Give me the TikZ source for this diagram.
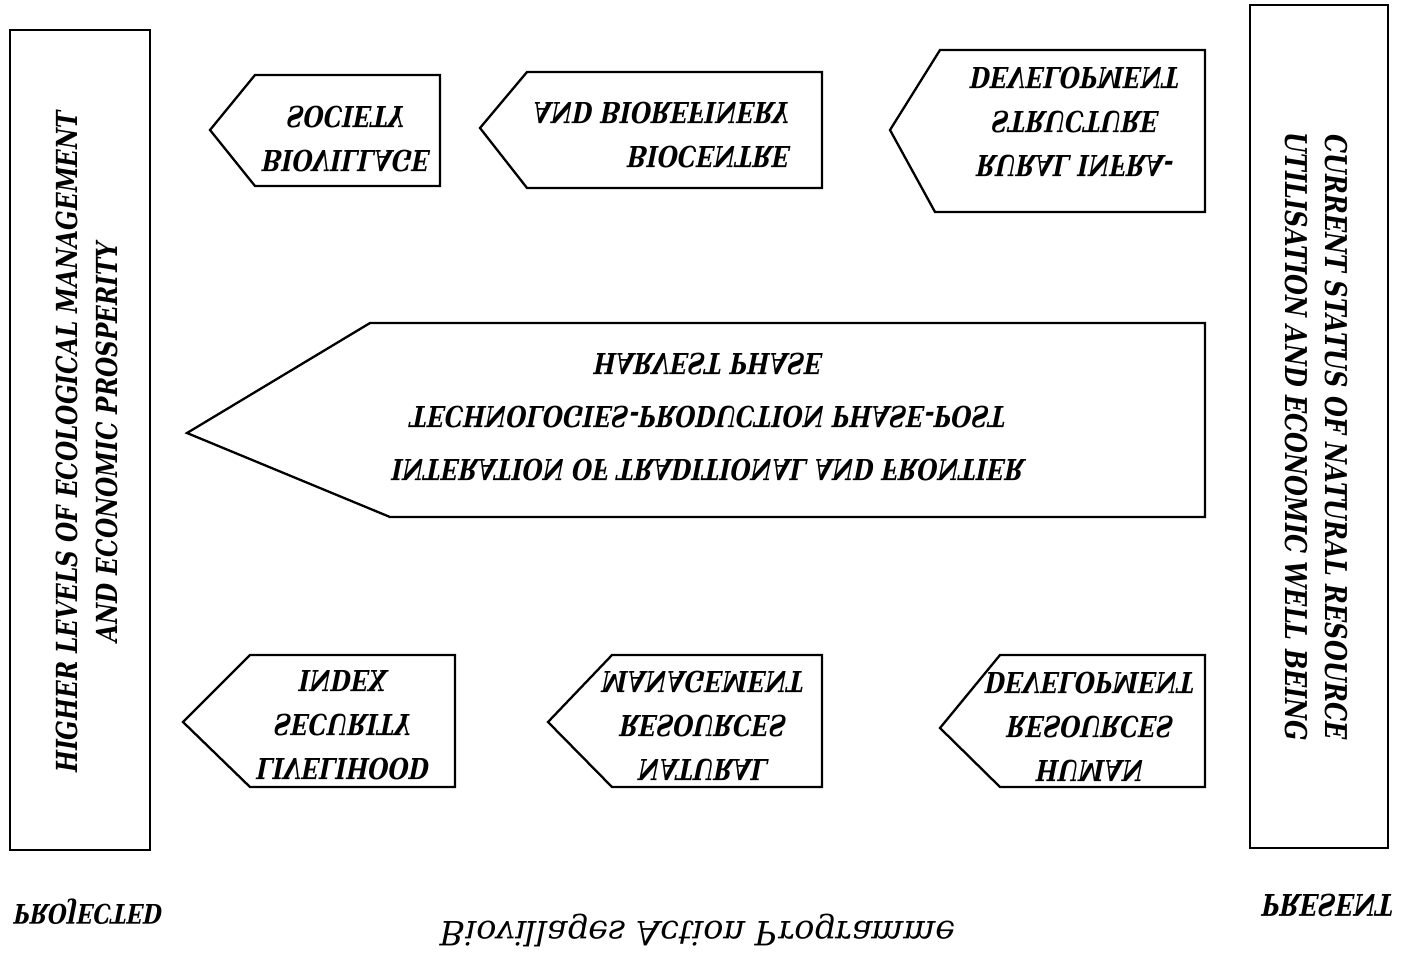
\documentclass[tikz,border=0pt]{standalone}
\usepackage{fontspec}
\usepackage{graphicx}
\newfontfamily\slab[FakeStretch=0.8]{DejaVu Serif}
\newfontfamily\backslab[FakeStretch=0.8,FakeSlant=-0.2]{DejaVu Serif}
\newfontfamily\backserif[FakeSlant=-0.2]{DejaVu Serif}
\newcommand{\flipc}[1]{\scalebox{1}[-1]{\begin{tabular}{@{}c@{}}#1\end{tabular}}}
\newcommand{\flipr}[1]{\scalebox{1}[-1]{\begin{tabular}{@{}r@{}}#1\end{tabular}}}
\tikzset{
  panel/.style={draw, line width=2.3pt},
  pent/.style={draw, line width=2.3pt, line join=miter},
  lbl/.style={font=\backslab\bfseries\fontsize{29}{44}\selectfont, inner sep=0pt},
  vlbl/.style={font=\slab\bfseries\itshape\fontsize{29}{40}\selectfont, align=center, inner sep=0pt},
  foot/.style={font=\backslab\bfseries\fontsize{28}{32}\selectfont, inner sep=0pt},
}
\begin{document}
\begin{tikzpicture}[x=1pt,y=-1pt]
\useasboundingbox (0,0) rectangle (1407,956);
% side panels
\draw[panel] (10,30) rectangle (150,850);
\node[vlbl, rotate=90] (proj) at (87,442) {HIGHER LEVELS OF ECOLOGICAL MANAGEMENT\\AND ECONOMIC PROSPERITY};
\draw[panel] (1250,5) rectangle (1388,848);
\node[vlbl, rotate=-90, font=\slab\bfseries\itshape\fontsize{30}{40}\selectfont] (pres) at (1316,437) {CURRENT STATUS OF NATURAL RESOURCE\\UTILISATION AND ECONOMIC WELL BEING};
% top row
\draw[pent] (440,75) -- (255,75) -- (210,130) -- (255,186) -- (440,186) -- cycle;
\node[lbl] (bvs) at (348,137) {\flipc{BIOVILLAGE\\SOCIETY}};
\draw[pent] (822,72) -- (527,72) -- (480,128) -- (527,188) -- (822,188) -- cycle;
\node[lbl, anchor=east] (bcb) at (792,133) {\flipr{BIOCENTRE\\AND BIOREFINERY}};
\draw[pent] (1205,50) -- (940,50) -- (890,130) -- (935,212) -- (1205,212) -- cycle;
\node[lbl] (rid) at (1077,120) {\flipc{RURAL INFRA-\\STRUCTURE\\DEVELOPMENT}};
% middle
\draw[pent] (1205,323) -- (370,323) -- (187,433) -- (390,517) -- (1205,517) -- cycle;
\node[lbl, font=\backslab\bfseries\fontsize{29}{53}\selectfont] (itf) at (710,417) {\flipc{INTERATION OF TRADITIONAL AND FRONTIER\\TECHNOLOGIES-PRODUCTION PHASE-POST\\HARVEST PHASE}};
% bottom row
\draw[pent] (455,655) -- (250,655) -- (183,722) -- (250,787) -- (455,787) -- cycle;
\node[lbl] (lsi) at (345,723) {\flipc{LIVELIHOOD\\SECURITY\\INDEX}};
\draw[pent] (822,655) -- (612,655) -- (548,722) -- (612,787) -- (822,787) -- cycle;
\node[lbl] (nrm) at (705,724) {\flipc{NATURAL\\RESOURCES\\MANAGEMENT}};
\draw[pent] (1205,655) -- (1000,655) -- (940,728) -- (1000,787) -- (1205,787) -- cycle;
\node[lbl] (hrd) at (1092,725) {\flipc{HUMAN\\RESOURCES\\DEVELOPMENT}};
% captions
\node[foot, font=\backslab\bfseries\fontsize{27}{32}\selectfont] (projl) at (90,912) {\scalebox{1}[-1]{PROJECTED}};
\node[foot, font=\backslab\bfseries\fontsize{30}{32}\selectfont] (presl) at (1330,905) {\scalebox{1}[-1]{PRESENT}};
\node[font=\backserif\fontsize{33.5}{36}\selectfont, inner sep=0pt] (title) at (700,930) {\scalebox{1}[-1]{Biovillages Action Programme}};
\end{tikzpicture}
\end{document}
